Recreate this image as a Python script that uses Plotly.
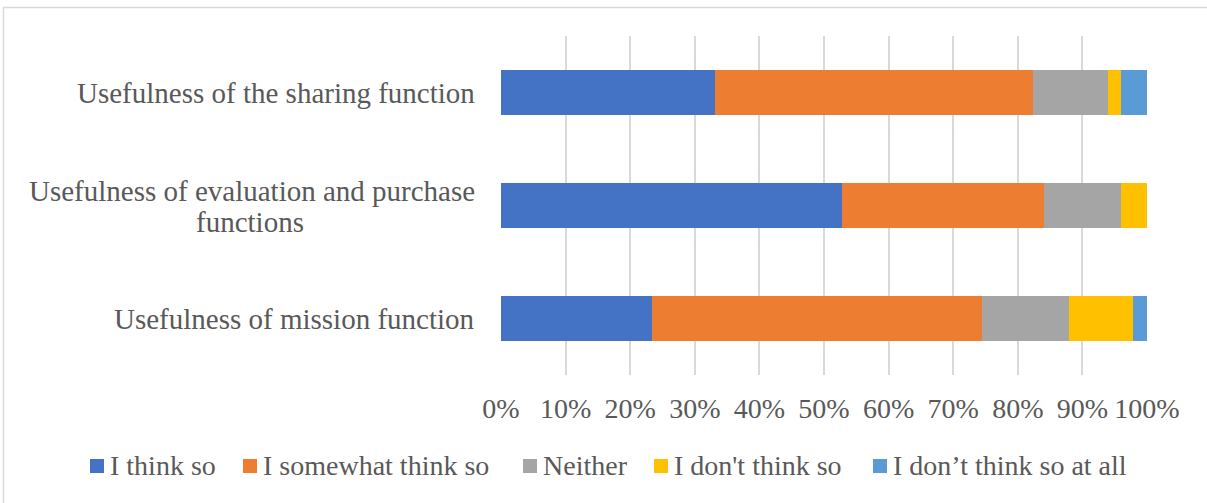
import plotly.graph_objects as go

categories = ["Usefulness of mission function",
              "Usefulness of evaluation and purchase functions",
              "Usefulness of the sharing function"]
series_names = ["I think so", "I somewhat think so", "Neither",
                "I don't think so", "I don\u2019t think so at all"]
i_think_so = [23.3, 52.8, 33.2]
somewhat = [51.1, 31.3, 49.1]
neither = [13.6, 11.8, 11.7]
dont_think = [9.9, 4.1, 1.9]
dont_at_all = [2.1, 0.0, 4.1]
colors = ["#4472C4", "#ED7D31", "#A5A5A5", "#FFC000", "#5B9BD5"]
tick_vals = [0, 10, 20, 30, 40, 50, 60, 70, 80, 90, 100]
tick_text = [f"{v}%" for v in tick_vals]

FONT = "Liberation Serif"
TXT = "#595959"

fig = go.Figure()
for name, vals, c in zip(series_names,
                         [i_think_so, somewhat, neither, dont_think, dont_at_all],
                         colors):
    fig.add_trace(go.Bar(y=list(range(len(categories))), x=vals, name=name,
                         orientation="h", marker=dict(color=c, line=dict(width=0)),
                         width=0.39))

W, H = 1207, 503
L, R, T, B = 501, 60, 36, 128
pw = W - L - R
ph = H - T - B

def px2x(px):
    return (px - L) / pw

def py2y(py):
    return (H - B - py) / ph

# category labels
for i, cat in enumerate(categories):
    if cat == "Usefulness of evaluation and purchase functions":
        fig.add_annotation(x=px2x(477), xref="paper", y=i, yref="y",
                           text="Usefulness of evaluation and purchase",
                           showarrow=False, xanchor="right", yanchor="middle",
                           yshift=15, font=dict(family=FONT, size=29, color=TXT))
        fig.add_annotation(x=px2x(250), xref="paper", y=i, yref="y",
                           text="functions",
                           showarrow=False, xanchor="center", yanchor="middle",
                           yshift=-16, font=dict(family=FONT, size=29, color=TXT))
    else:
        fig.add_annotation(x=px2x(477), xref="paper", y=i, yref="y", text=cat,
                           showarrow=False, xanchor="right", yanchor="middle",
                           font=dict(family=FONT, size=29, color=TXT))

# legend (drawn manually to keep a single row)
legend_square_px = [97, 250, 530, 661, 880]
legend_y_px = 466
for name, c, sx in zip(series_names, colors, legend_square_px):
    fig.add_shape(type="rect", xref="paper", yref="paper",
                  x0=px2x(sx - 7), x1=px2x(sx + 7),
                  y0=py2y(legend_y_px + 7), y1=py2y(legend_y_px - 7),
                  line=dict(width=0), fillcolor=c)
    fig.add_annotation(x=px2x(sx + 11), xref="paper", y=py2y(legend_y_px),
                       yref="paper", text=name, showarrow=False,
                       xanchor="left", yanchor="middle",
                       font=dict(family=FONT, size=28, color=TXT))

# outer chart border
fig.add_shape(type="rect", xref="paper", yref="paper",
              x0=px2x(3.5), x1=px2x(1210), y0=py2y(507), y1=py2y(7.5),
              line=dict(color="#D9D9D9", width=1.5), fillcolor="rgba(0,0,0,0)",
              layer="below")

fig.update_layout(
    width=W, height=H,
    margin=dict(l=L, r=R, t=T, b=B, autoexpand=False),
    barmode="stack",
    plot_bgcolor="white", paper_bgcolor="white",
    font=dict(family=FONT, size=28, color=TXT),
    xaxis=dict(range=[0, 100], tickvals=tick_vals, ticktext=tick_text,
               showgrid=True, gridcolor="#D9D9D9", gridwidth=1.5,
               zeroline=False, showline=False, ticks="",
               ticklabelstandoff=14,
               tickfont=dict(family=FONT, size=28, color=TXT)),
    yaxis=dict(range=[-0.5, 2.5], showticklabels=False, showgrid=False,
               zeroline=False, showline=False, ticks=""),
    showlegend=False,
)

fig.write_html("out.html")
